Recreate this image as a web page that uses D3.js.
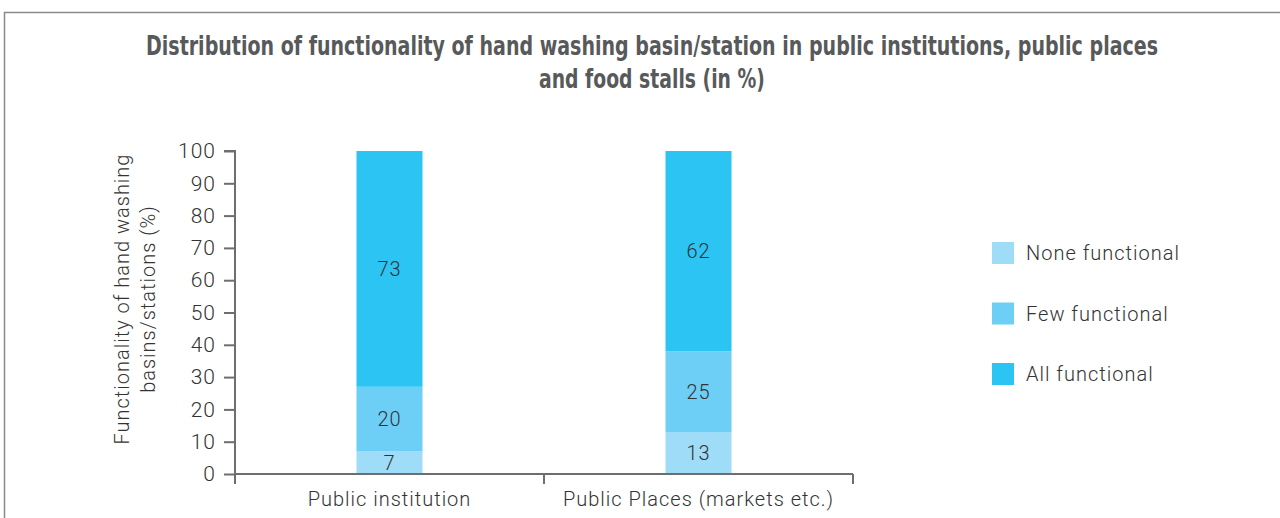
<!DOCTYPE html>
<html>
<head>
<meta charset="utf-8">
<script src="https://cdn.jsdelivr.net/npm/d3@7"></script>
<style>
  body { margin: 0; background: #fff; }
  svg { display: block; }
</style>
</head>
<body>
<svg id="chart" width="1280" height="518"></svg>
<script>
const categories = ["Public institution", "Public Places (markets etc.)"];
const seriesNames = ["None functional", "Few functional", "All functional"];
const noneFunctional = [7, 13];
const fewFunctional = [20, 25];
const allFunctional = [73, 62];
const yTicks = [0, 10, 20, 30, 40, 50, 60, 70, 80, 90, 100];
const titleLines = ["Distribution of functionality of hand washing basin/station in public institutions, public places", "and food stalls (in %)"];
const yLabelLines = ["Functionality of hand washing", "basins/stations (%)"];

const colors = ["#9edcf8", "#6dcff6", "#2bc4f3"];
const svg = d3.select("#chart");

// frame
svg.append("path").attr("d", "M4.5,518 V12.5 H1280").attr("fill", "none").attr("stroke", "#8a8a8a").attr("stroke-width", 1.5);

// title (condensed by horizontal scaling)
const titleFont = "'Liberation Sans Narrow', 'DejaVu Sans Condensed', sans-serif";
const tl = [{t: titleLines[0], y: 55, len: 1013}, {t: titleLines[1], y: 88, len: 226}];
tl.forEach(d => {
  const g = svg.append("g");
  const t = g.append("text").attr("x", 0).attr("y", 0).attr("text-anchor", "middle")
    .attr("font-family", titleFont).attr("font-weight", "bold").attr("font-size", 26)
    .attr("fill", "#58595b")
    .text(d.t);
  const natural = t.node().getComputedTextLength();
  const sx = Math.min(1, d.len / natural);
  g.attr("transform", `translate(652,${d.y}) scale(${sx},1)`);
});

const margin = {left: 235, right: 853, top: 151, bottom: 474};
const x = d3.scaleBand().domain(categories).range([margin.left, margin.right]);
const y = d3.scaleLinear().domain([0, 100]).range([margin.bottom, margin.top]);

const data = categories.map((c, i) => ({cat: c, s0: noneFunctional[i], s1: fewFunctional[i], s2: allFunctional[i]}));
const stack = d3.stack().keys(["s0", "s1", "s2"])(data);
const barW = 66;
const font = "Roboto, 'Liberation Sans', sans-serif";
const ls = "1px";

stack.forEach((layer, li) => {
  svg.append("g").selectAll("rect").data(layer).join("rect")
    .attr("x", d => x(d.data.cat) + x.bandwidth() / 2 - barW / 2)
    .attr("width", barW)
    .attr("y", d => y(d[1]))
    .attr("height", d => y(d[0]) - y(d[1]))
    .attr("fill", colors[li]);
  svg.append("g").selectAll("text").data(layer).join("text")
    .attr("x", d => x(d.data.cat) + x.bandwidth() / 2)
    .attr("y", d => y((d[0] + d[1]) / 2))
    .attr("dy", "0.36em")
    .attr("text-anchor", "middle")
    .attr("font-family", font).attr("font-weight", 300).attr("font-size", 20)
    .attr("letter-spacing", ls)
    .attr("fill", "#333")
    .text(d => d[1] - d[0]);
});

const axisColor = "#6d6e71";
// y axis
const yAxis = svg.append("g").attr("transform", `translate(${margin.left},0)`)
  .call(d3.axisLeft(y).tickValues(yTicks).tickSize(11).tickPadding(8));
yAxis.select(".domain").attr("stroke", axisColor).attr("stroke-width", 2).attr("d", `M-11,${margin.top}H0V${margin.bottom}`);
yAxis.selectAll(".tick line").attr("stroke", axisColor).attr("stroke-width", 2);
yAxis.selectAll(".tick text").attr("font-family", font).attr("font-weight", 300).attr("font-size", 21)
  .attr("letter-spacing", ls).attr("fill", "#333");

// x axis
const xAxisG = svg.append("g").attr("transform", `translate(0,${margin.bottom})`);
xAxisG.append("line").attr("x1", margin.left).attr("x2", margin.right).attr("stroke", axisColor).attr("stroke-width", 2);
const boundaries = [margin.left, ...categories.map(c => x(c) + x.bandwidth())];
xAxisG.selectAll("line.t").data(boundaries).join("line").attr("class", "t")
  .attr("x1", d => d).attr("x2", d => d).attr("y1", 0).attr("y2", 10)
  .attr("stroke", axisColor).attr("stroke-width", 2);
xAxisG.selectAll("text").data(categories).join("text")
  .attr("x", d => x(d) + x.bandwidth() / 2).attr("y", 32)
  .attr("text-anchor", "middle")
  .attr("font-family", font).attr("font-weight", 300).attr("font-size", 20)
  .attr("letter-spacing", ls).attr("fill", "#333")
  .text(d => d);

// y label
const yl = svg.append("text").attr("transform", "translate(0,299) rotate(-90)")
  .attr("text-anchor", "middle").attr("font-family", font).attr("font-weight", 300)
  .attr("font-size", 20).attr("letter-spacing", ls).attr("fill", "#333");
yLabelLines.forEach((t, i) => {
  yl.append("tspan").attr("x", 0).attr("y", 129 + i * 26).text(t);
});

// legend
const legend = svg.append("g");
seriesNames.forEach((n, i) => {
  const gy = 242 + i * 60.5;
  legend.append("rect").attr("x", 992).attr("y", gy).attr("width", 22).attr("height", 22).attr("fill", colors[i]);
  legend.append("text").attr("x", 1026).attr("y", gy + 11).attr("dy", "0.36em")
    .attr("font-family", font).attr("font-weight", 300).attr("font-size", 20)
    .attr("letter-spacing", ls).attr("fill", "#333").text(n);
});
</script>
</body>
</html>
